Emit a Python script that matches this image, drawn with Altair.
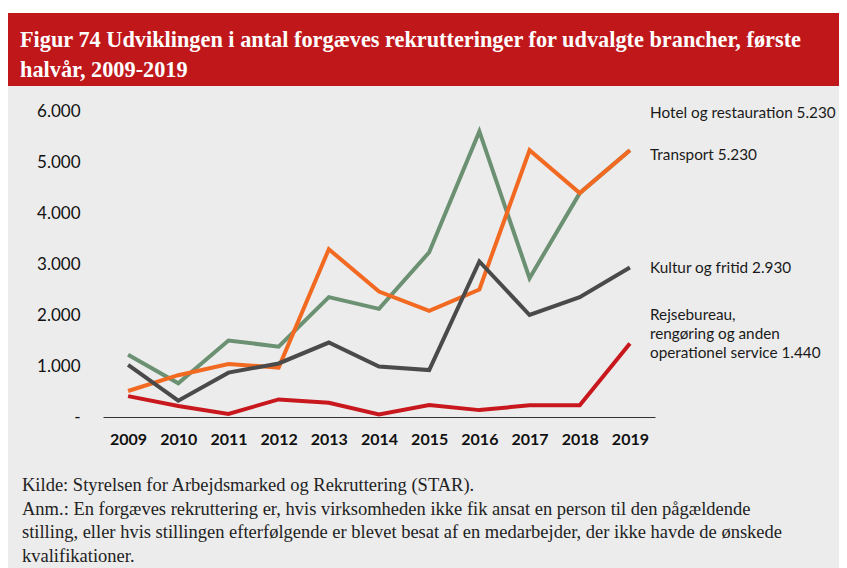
import altair as alt
import pandas as pd

years = ["2009", "2010", "2011", "2012", "2013", "2014", "2015", "2016", "2017", "2018", "2019"]
hotel = [1220, 660, 1500, 1380, 2350, 2120, 3230, 5600, 2720, 4390, 5230]
transport = [510, 820, 1040, 970, 3290, 2460, 2080, 2500, 5230, 4390, 5230]
kultur = [1020, 320, 870, 1050, 1460, 990, 920, 3050, 2000, 2350, 2930]
rejse = [410, 215, 60, 345, 280, 50, 235, 135, 230, 230, 1440]

series_names = ["Hotel og restauration", "Transport", "Kultur og fritid", "Rejsebureau"]
series_values = [hotel, transport, kultur, rejse]
series_colors = ["#6b9172", "#f26a21", "#4a4a4a", "#c8181e"]

title_lines = [
    "Figur 74 Udviklingen i antal forgæves rekrutteringer for udvalgte brancher, første",
    "halvår, 2009-2019",
]
note_lines = [
    "Kilde: Styrelsen for Arbejdsmarked og Rekruttering (STAR).",
    "Anm.: En forgæves rekruttering er, hvis virksomheden ikke fik ansat en person til den pågældende",
    "stilling, eller hvis stillingen efterfølgende er blevet besat af en medarbejder, der ikke havde de ønskede",
    "kvalifikationer.",
]
label_hotel = "Hotel og restauration 5.230"
label_transport = "Transport 5.230"
label_kultur = "Kultur og fritid 2.930"
label_rejse = ["Rejsebureau,", "rengøring og anden", "operationel service 1.440"]

rows = []
for name, vals in zip(series_names, series_values):
    for y, v in zip(years, vals):
        rows.append({"year": y, "value": v, "series": name})
df = pd.DataFrame(rows)

W, H = 552, 306
PL, PT = 95, 103
TOTAL_W, TOTAL_H = 831, 560

one = alt.Data(values=[{"k": 1}])
ann = alt.Chart(one)

bg = ann.mark_rect(color="#ececec").encode(
    x=alt.value(-PL), x2=alt.value(TOTAL_W - PL + 20),
    y=alt.value(-25), y2=alt.value(TOTAL_H - PT + 10),
)
redbar = ann.mark_rect(color="#c0171b").encode(
    x=alt.value(-PL), x2=alt.value(TOTAL_W - PL + 20),
    y=alt.value(-98), y2=alt.value(-25),
)
title = ann.mark_text(
    align="left", baseline="alphabetic", font="Liberation Serif", fontWeight="bold",
    fontSize=22.3, color="white", lineHeight=30,
).encode(x=alt.value(-83), y=alt.value(-64), text=alt.value(title_lines))

note = ann.mark_text(
    align="left", baseline="alphabetic", font="Liberation Serif",
    fontSize=18.5, color="#222222", lineHeight=23.5,
).encode(x=alt.value(-81), y=alt.value(380), text=alt.value(note_lines))

lines = alt.Chart(df).mark_line(strokeWidth=4).encode(
    x=alt.X("year:O", sort=years, scale=alt.Scale(type="point", padding=0.5),
            axis=alt.Axis(title=None, labelAngle=0, domain=True, domainColor="#333333",
                          domainWidth=1, ticks=False, labelFont="Lato", labelFontWeight="bold",
                          labelFontSize=16, labelColor="#111111", labelPadding=14, zindex=1)),
    y=alt.Y("value:Q", scale=alt.Scale(domain=[0, 6000], nice=False),
            axis=alt.Axis(title=None, values=[0, 1000, 2000, 3000, 4000, 5000, 6000],
                          domain=False, ticks=False, grid=False, labelFont="Lato",
                          labelFontSize=17, labelColor="#111111", labelPadding=23, zindex=1,
                          labelExpr="datum.value == 0 ? '-   ' : replace(format(datum.value, ','), ',', '.')")),
    color=alt.Color("series:N", scale=alt.Scale(domain=series_names, range=series_colors), legend=None),
)

lab_style = dict(align="left", baseline="middle", font="Lato", fontSize=15.3, color="#1a1a1a")
t1 = ann.mark_text(**lab_style).encode(x=alt.value(547), y=alt.value(2), text=alt.value(label_hotel))
t2 = ann.mark_text(**lab_style).encode(x=alt.value(547), y=alt.value(44), text=alt.value(label_transport))
t3 = ann.mark_text(**lab_style).encode(x=alt.value(547), y=alt.value(157), text=alt.value(label_kultur))
t4 = ann.mark_text(**lab_style, lineHeight=19).encode(x=alt.value(547), y=alt.value(204), text=alt.value(label_rejse))

chart = alt.layer(bg, redbar, title, note, lines, t1, t2, t3, t4).properties(
    width=W, height=H,
    autosize=alt.AutoSizeParams(type="none"),
    padding={"left": PL, "top": PT, "right": TOTAL_W - PL - W, "bottom": TOTAL_H - PT - H},
).configure_view(stroke=None).configure(background="white")

chart.save("out.html", embed_options={"renderer": "svg", "actions": False})
